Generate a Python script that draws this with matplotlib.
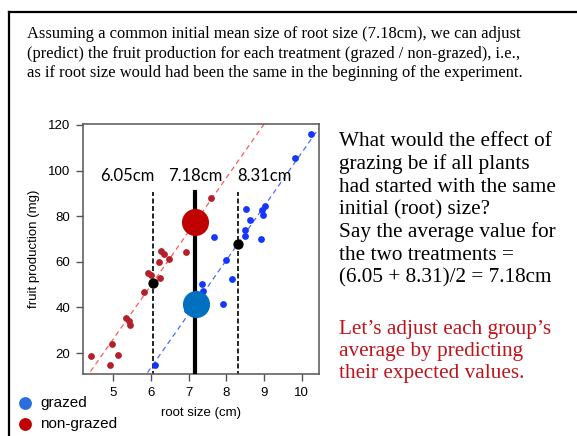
import numpy as np
import matplotlib.pyplot as plt

# non-grazed plants: root size (cm), fruit production (mg)
root_ng = [4.42, 4.91, 4.97, 5.12, 5.35, 5.42, 5.44, 5.82, 5.92, 6.00,
           6.24, 6.22, 6.27, 6.35, 6.49, 6.93, 7.60]
fruit_ng = [18.8, 14.6, 24.1, 19.1, 35.5, 34.2, 32.3, 46.6, 54.9, 54.0,
            52.8, 59.7, 64.8, 63.4, 61.0, 64.4, 87.9]

# grazed plants
root_g = [6.11, 6.95, 7.35, 7.39, 7.68, 7.92, 7.99, 8.16, 8.50, 8.50,
          8.52, 8.64, 8.91, 8.96, 8.98, 9.04, 9.82, 10.25]
fruit_g = [14.7, 39.0, 50.1, 47.0, 70.8, 41.5, 60.9, 52.4, 71.1, 74.0,
           83.1, 78.2, 70.2, 82.8, 80.3, 84.4, 105.3, 116.2]

# ancova fit: common slope, separate intercepts
slope = 23.56
icpt_g = -127.83
icpt_ng = -91.73

mean_root_ng = 6.05
mean_root_g = 8.31
mean_root_all = 7.18

fig = plt.figure(figsize=(5.77, 4.36), dpi=100)
ax = fig.add_axes([83/577, 1-374/436, 236/577, 250/436])

xs = np.array([4.0, 11.0])
ax.plot(xs, icpt_ng + slope*xs, ls=(0, (4, 3)), color='#ff5a5a', lw=0.9, zorder=1)
ax.plot(xs, icpt_g + slope*xs, ls=(0, (4, 3)), color='#4a6cff', lw=0.9, zorder=1)

ax.scatter(root_ng, fruit_ng, s=24, color='#b3202a', lw=0, zorder=3)
ax.scatter(root_g, fruit_g, s=24, color='#1436ff', lw=0, zorder=3)

top = 90.4
ax.plot([mean_root_ng]*2, [10, top], color='k', ls=(0, (3, 1.5)), lw=1.2, zorder=2)
ax.plot([mean_root_g]*2, [10, top], color='k', ls=(0, (3, 1.5)), lw=1.2, zorder=2)
ax.plot([mean_root_all]*2, [11.8, top], color='k', lw=3, zorder=4)

ax.scatter([mean_root_ng, mean_root_g],
           [icpt_ng + slope*mean_root_ng, icpt_g + slope*mean_root_g],
           s=55, color='k', lw=0, zorder=5)
ax.scatter([mean_root_all], [icpt_ng + slope*mean_root_all], s=380, color='#c00000', lw=0, zorder=6)
ax.scatter([mean_root_all + 0.03], [icpt_g + slope*mean_root_all], s=380, color='#0070c0', lw=0, zorder=6)

for xv, dx, lab in [(mean_root_ng, -0.67, '6.05cm'), (mean_root_all, 0.0, '7.18cm'),
                    (mean_root_g, 0.7, '8.31cm')]:
    ax.text(xv + dx, 97.8, lab, ha='center', va='center', fontsize=12, family='Lato')

ax.set_xlim(4.2, 10.46)
ax.set_ylim(10.8, 120.4)
ax.set_xticks([5, 6, 7, 8, 9, 10])
ax.set_yticks([20, 40, 60, 80, 100, 120])
for sp in ax.spines.values():
    sp.set_color('#555555')
    sp.set_linewidth(1.1)
ax.tick_params(length=5, width=1.0, color='#555555', labelsize=9.5, pad=4)
for t in ax.get_xticklabels() + ax.get_yticklabels():
    t.set_family('Liberation Sans')
ax.set_xlabel('root size (cm)', fontsize=9.5, family='Liberation Sans', labelpad=6)
ax.set_ylabel('fruit production (mg)', fontsize=9.5, family='Liberation Sans', labelpad=6)

# legend below the axes
ax.scatter([25/577], [1-403/436], s=85, color='#2a6ddc', lw=0, transform=fig.transFigure, clip_on=False)
ax.scatter([25/577], [1-424/436], s=85, color='#c00000', lw=0, transform=fig.transFigure, clip_on=False)
fig.text(40/577, 1-403/436, 'grazed', fontsize=11, family='Liberation Sans', va='center')
fig.text(40/577, 1-424/436, 'non-grazed', fontsize=11, family='Liberation Sans', va='center')

# slide frame
fig.add_artist(plt.Line2D([8.5/577, 1], [1-12.5/436]*2, color='k', lw=1.6))
fig.add_artist(plt.Line2D([8.5/577]*2, [1-12.5/436, 0], color='k', lw=1.6))

head = ("Assuming a common initial mean size of root size (7.18cm), we can adjust\n"
        "(predict) the fruit production for each treatment (grazed / non-grazed), i.e.,\n"
        "as if root size would had been the same in the beginning of the experiment.")
fig.text(27/577, 1-26/436, head, fontsize=11.9, family='Liberation Serif', va='top',
         linespacing=1.3)

side = ("What would the effect of\n"
        "grazing be if all plants\n"
        "had started with the same\n"
        "initial (root) size?\n"
        "Say the average value for\n"
        "the two treatments =\n"
        "(6.05 + 8.31)/2 = 7.18cm")
fig.text(339/577, 1-132/436, side, fontsize=15.3, family='Liberation Serif', va='top',
         linespacing=1.23)
note = ("Let\u2019s adjust each group\u2019s\n"
        "average by predicting\n"
        "their expected values.")
fig.text(339/577, 1-320/436, note, fontsize=15.3, family='Liberation Serif', va='top',
         color='#c0141c', linespacing=1.23)

fig.savefig('out.png', dpi=100)
